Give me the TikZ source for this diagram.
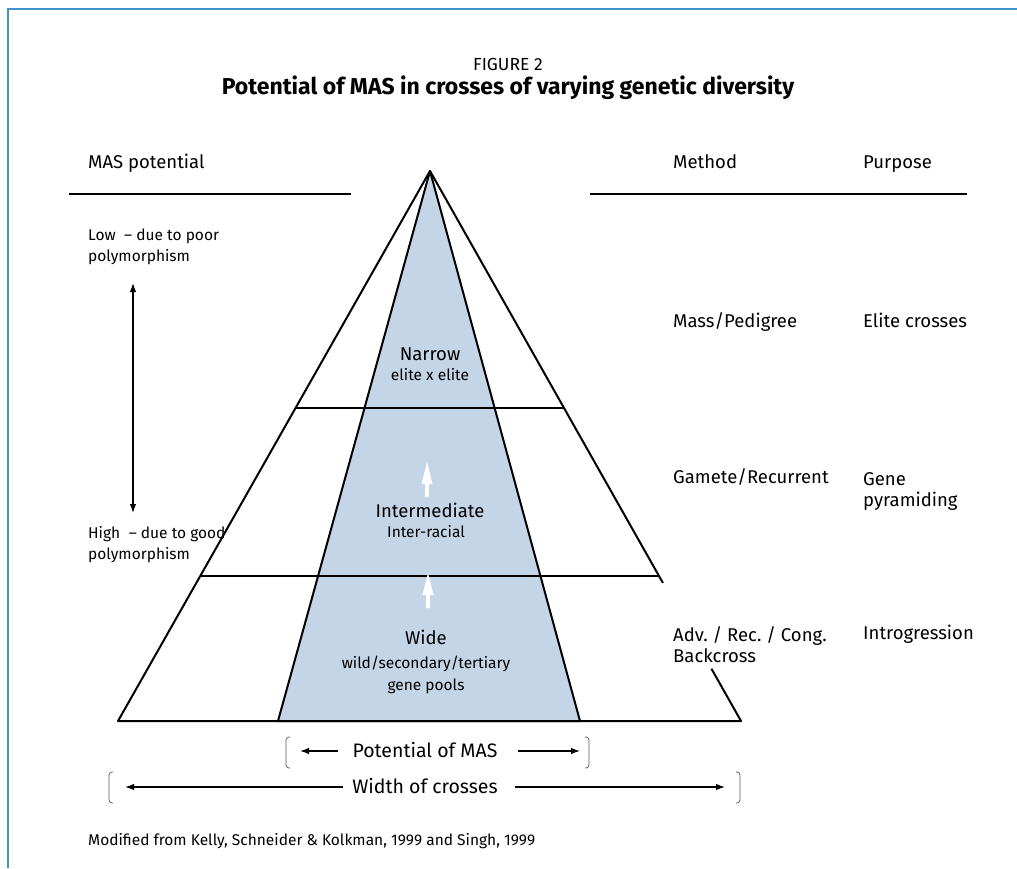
\documentclass[tikz,border=0pt]{standalone}
\usepackage{fontspec}
\setmainfont{Fira Sans}
\usetikzlibrary{arrows.meta,calc}
\definecolor{framblue}{HTML}{3F93C8}
\definecolor{poolblue}{HTML}{C5D5E8}
\definecolor{brackgray}{HTML}{555555}
\frenchspacing
\tikzset{
  lbl/.style={font=\fontsize{18.5}{21}\selectfont, inner sep=0pt, anchor=base west, align=left},
  side/.style={font=\fontsize{15.5}{21}\selectfont, inner sep=0pt, anchor=base west, align=left},
  mid/.style={font=\fontsize{18.5}{21}\selectfont, inner sep=0pt, anchor=base, align=center},
  dimlbl/.style={font=\fontsize{19.5}{21}\selectfont, inner sep=0pt, anchor=base, align=center},
  small/.style={font=\fontsize{15.5}{22}\selectfont, inner sep=0pt, anchor=base, align=center},
  edge/.style={line width=2pt, line join=round},
  rule/.style={line width=1.3pt},
  dimarrow/.style={line width=1.3pt, -{Latex[length=9pt,width=6.5pt]}},
  brack/.style={line width=0.7pt, draw=brackgray, rounded corners=3pt},
  whitearrow/.pic={\fill[white] (0,0) -- (5.5,22) -- (1.8,22) -- (1.8,35) -- (-1.8,35) -- (-1.8,22) -- (-5.5,22) -- cycle;}
}
\begin{document}
\begin{tikzpicture}[x=1pt,y=-1pt]
\useasboundingbox (0,0) rectangle (1017,868);

% frame
\draw[framblue, line width=2pt] (8,868) -- (8,9) -- (1017,9);

% title
\node[font=\fontsize{17.5}{20}\selectfont, inner sep=0pt, anchor=base] (fig) at (508,70) {FIGURE 2};
\node[font=\bfseries\fontsize{23}{26}\selectfont, inner sep=0pt, anchor=base] (title) at (508,94) {Potential of MAS in crosses of varying genetic diversity};

% column headers
\node[lbl] (maspot) at (88,168) {MAS potential};
\node[lbl] (method) at (673,168) {Method};
\node[lbl] (purpose) at (863,168) {Purpose};
\coordinate (r1a) at (69,194);  \coordinate (r1b) at (351,194);
\coordinate (r2a) at (590,194); \coordinate (r2b) at (967,194);
\draw[rule] (r1a) -- (r1b);
\draw[rule] (r2a) -- (r2b);

% pyramid corners
\coordinate (apex) at (430,171);
\coordinate (bl) at (118,721);
\coordinate (br) at (741,721);
\coordinate (il) at (278,721);
\coordinate (ir) at (580,721);

% inner (MAS) triangle
\filldraw[fill=poolblue, edge] (apex) -- (il) -- (ir) -- cycle;

% outer triangle, right side broken around the backcross label
\draw[edge] ($(apex)!0.749!(br)$) -- (apex) -- (bl) -- (br) -- ($(apex)!0.905!(br)$);

% level dividers
\draw[edge] ($(apex)!0.431!(bl)$) -- ($(apex)!0.431!(br)$);
\draw[edge] ($(apex)!0.736!(bl)$) -- ($(apex)!0.736!(br)$);

% white arrows inside the pool
\pic at (427,462) {whitearrow};
\pic at (428,573) {whitearrow};

% level labels
\node[mid] (narrow) at (430,360) {Narrow};
\node[small] (narrowx) at (430,380) {elite x elite};
\node[mid] (inter) at (430,517) {Intermediate};
\node[small] (interx) at (426,537) {Inter-racial};
\node[mid] (wide) at (426,644) {Wide};
\node[small] (widex) at (426,690) {wild/secondary/tertiary\\gene pools};

% MAS potential scale
\node[side] (low) at (88,261) {Low\hspace{0.55em}-- due to poor\\polymorphism};
\node[side] (high) at (88,559) {High\hspace{0.55em}-- due to good\\polymorphism};
\coordinate (vtop) at (133,283);
\coordinate (vbot) at (133,513);
\draw[line width=1.3pt, {Latex[length=9pt,width=6.5pt]}-{Latex[length=9pt,width=6.5pt]}] (vtop) -- (vbot);

% method / purpose columns
\node[lbl] (m1) at (673,327) {Mass/Pedigree};
\node[lbl] (p1) at (863,327) {Elite crosses};
\node[lbl] (m2) at (673,483) {Gamete/Recurrent};
\node[lbl] (p2) at (863,506) {Gene\\pyramiding};
\node[lbl] (m3) at (673,662) {Adv. / Rec. / Cong.\\Backcross};
\node[lbl] (p3) at (863,639) {Introgression};

% bottom dimension lines
\node[dimlbl] (potmas) at (425,757) {Potential of MAS};
\coordinate (pa1) at (338,751); \coordinate (pa2) at (300,751);
\coordinate (pb1) at (518,751); \coordinate (pb2) at (580,751);
\draw[dimarrow] (pa1) -- (pa2);
\draw[dimarrow] (pb1) -- (pb2);
\draw[brack] (290,737) -- (286,737) -- (286,768) -- (290,768);
\draw[brack] (585,737) -- (589,737) -- (589,768) -- (585,768);

\node[dimlbl] (width) at (425,793) {Width of crosses};
\coordinate (wa1) at (343,787); \coordinate (wa2) at (125,787);
\coordinate (wb1) at (515,787); \coordinate (wb2) at (725,787);
\draw[dimarrow] (wa1) -- (wa2);
\draw[dimarrow] (wb1) -- (wb2);
\draw[brack] (113,772) -- (109,772) -- (109,803) -- (113,803);
\draw[brack] (736,772) -- (740,772) -- (740,803) -- (736,803);

% source note
\node[font=\fontsize{15.5}{18}\selectfont, inner sep=0pt, anchor=base west] (note) at (88,845) {Modified from Kelly, Schneider \& Kolkman, 1999 and Singh, 1999};
\end{tikzpicture}
\end{document}
